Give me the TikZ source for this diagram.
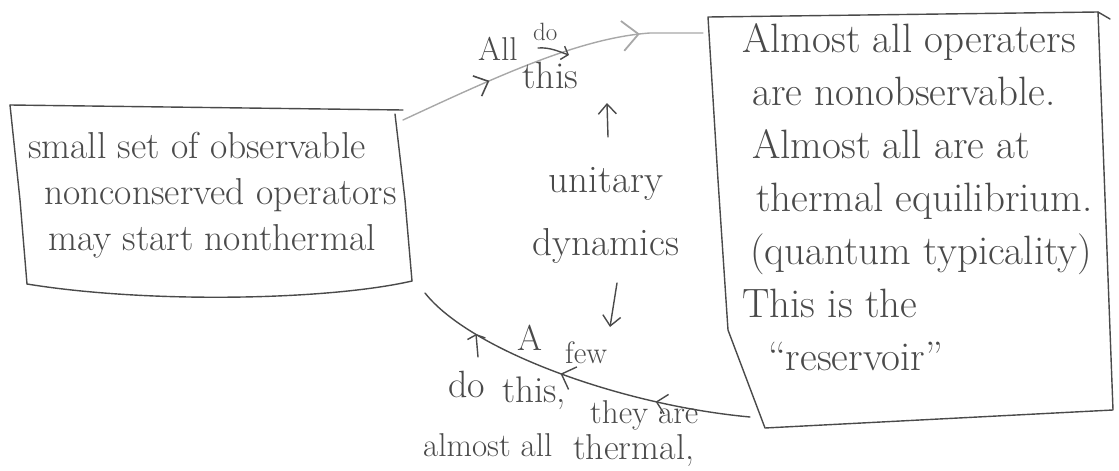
\documentclass[tikz,border=0pt]{standalone}
\usetikzlibrary{arrows.meta,decorations.markings}
\definecolor{ink}{HTML}{4A4A4A}
\definecolor{faint}{HTML}{A8A8A8}
\begin{document}
\begin{tikzpicture}[x=1pt,y=-1pt,
  outline/.style={draw=ink,line width=1.4pt,line join=round,line cap=round},
  faintline/.style={draw=faint,line width=1.4pt,line join=round,line cap=round},
  txt/.style={text=ink,inner sep=0pt,anchor=base west,align=left},
  barb/.style={-{Straight Barb[length=#1,width=1.8*#1]}}
]
\useasboundingbox (0,0) rectangle (1119,471);

% ---------- left box ----------
\coordinate (Ltl) at (10,105);
\coordinate (Ltr) at (403,110);
\coordinate (Lrs) at (395,114);
\coordinate (Lbr) at (412,281);
\coordinate (Lbl) at (27,284);
\draw[outline] (Ltl) -- (Ltr);
\draw[outline] (Lrs) -- (405,200) -- (Lbr);
\draw[outline] (Lbr) .. controls (330,300) and (150,304) .. (Lbl);
\draw[outline] (Ltl) -- (20,200) -- (Lbl);
% anchor = baseline of the last line
\node[txt,font=\fontsize{37.5}{46}\selectfont] (ltext) at (28,250)
  {small set of observable\\\hspace*{16pt}nonconserved operators\\\hspace*{20pt}may start nonthermal};

% ---------- right box ----------
\coordinate (Rtl) at (708,17);
\coordinate (Rtr) at (1098,12);
\coordinate (Rbr) at (1113,410);
\coordinate (Rbl) at (765,428);
\draw[outline] (Rtl) -- (Rtr) -- (Rbr) -- (Rbl) -- (728,330) -- (718,180) -- cycle;
\draw[outline] (Rtr) -- (1110,19);
\node[txt,font=\fontsize{41}{53}\selectfont] (rtext) at (742,370)
  {Almost all operaters\\\hspace*{10pt}are nonobservable.\\\hspace*{10pt}Almost all are at\\\hspace*{14pt}thermal equilibrium.\\\hspace*{8pt}(quantum typicality)\\This is the\\\hspace*{26pt}``reservoir''};

% ---------- connectors ----------
\coordinate (Lout) at (403,120);
\coordinate (Rin) at (703,33);
\draw[faintline,postaction={decorate,decoration={markings,
   mark=at position 0.3 with {\arrow[ink,line width=1.6pt]{Straight Barb[length=12pt,width=22pt]}},
   mark=at position 0.8 with {\arrow[faint,line width=1.8pt]{Straight Barb[length=16pt,width=30pt]}}}}]
  (Lout) .. controls (500,75) and (580,38) .. (650,33) -- (Rin);

\coordinate (Rout) at (750,417);
\coordinate (Lin) at (425,293);
\draw[outline,postaction={decorate,decoration={markings,
   mark=at position 0.27 with {\arrow[ink,line width=1.4pt]{Straight Barb[length=10pt,width=20pt]}},
   mark=at position 0.55 with {\arrow[ink,line width=1.4pt]{Straight Barb[length=12pt,width=24pt]}}}}]
  (Rout) .. controls (620,405) and (470,350) .. (Lin);

% ---------- centre label ----------
\node[text=ink,inner sep=0pt,anchor=base,align=center,font=\fontsize{39}{63}\selectfont] (ud) at (606,255) {unitary\\dynamics};
\coordinate (upA) at (608,137);
\coordinate (upB) at (607,103);
\draw[outline,barb=10pt] (upA) -- (upB);
\coordinate (dnA) at (617,283);
\coordinate (dnB) at (610,327);
\draw[outline,barb=10pt] (dnA) -- (dnB);

% ---------- top label ----------
\node[txt,font=\fontsize{33}{33}\selectfont] (all) at (478,60) {All};
\node[txt,font=\fontsize{25}{25}\selectfont] (do1) at (533,40) {do};
\node[txt,font=\fontsize{38}{38}\selectfont] (this1) at (522,88) {this};
\coordinate (sqA) at (538,48);
\coordinate (sqB) at (569,55);
\draw[outline,-{Straight Barb[length=6pt,width=14pt]}] (sqA) .. controls (550,47) and (560,52) .. (sqB);

% ---------- bottom label ----------
\node[txt,font=\fontsize{36}{36}\selectfont] (A) at (517,350) {A};
\node[txt,font=\fontsize{31}{31}\selectfont] (few) at (565,363) {few};
\node[txt,font=\fontsize{38}{38}\selectfont] (do2) at (448,397) {do};
\node[txt,font=\fontsize{37}{37}\selectfont] (this2) at (502,402) {this,};
\node[txt,font=\fontsize{33}{33}\selectfont] (they) at (590,423) {they are};
\node[txt,font=\fontsize{33}{33}\selectfont] (almost) at (423,456) {almost all};
\node[txt,font=\fontsize{36}{36}\selectfont] (therm) at (573,459) {thermal,};
\coordinate (uaA) at (478,357);
\coordinate (uaB) at (476,334);
\draw[outline,-{Straight Barb[length=4pt,width=18pt]}] (uaA) -- (uaB);
\end{tikzpicture}
\end{document}
